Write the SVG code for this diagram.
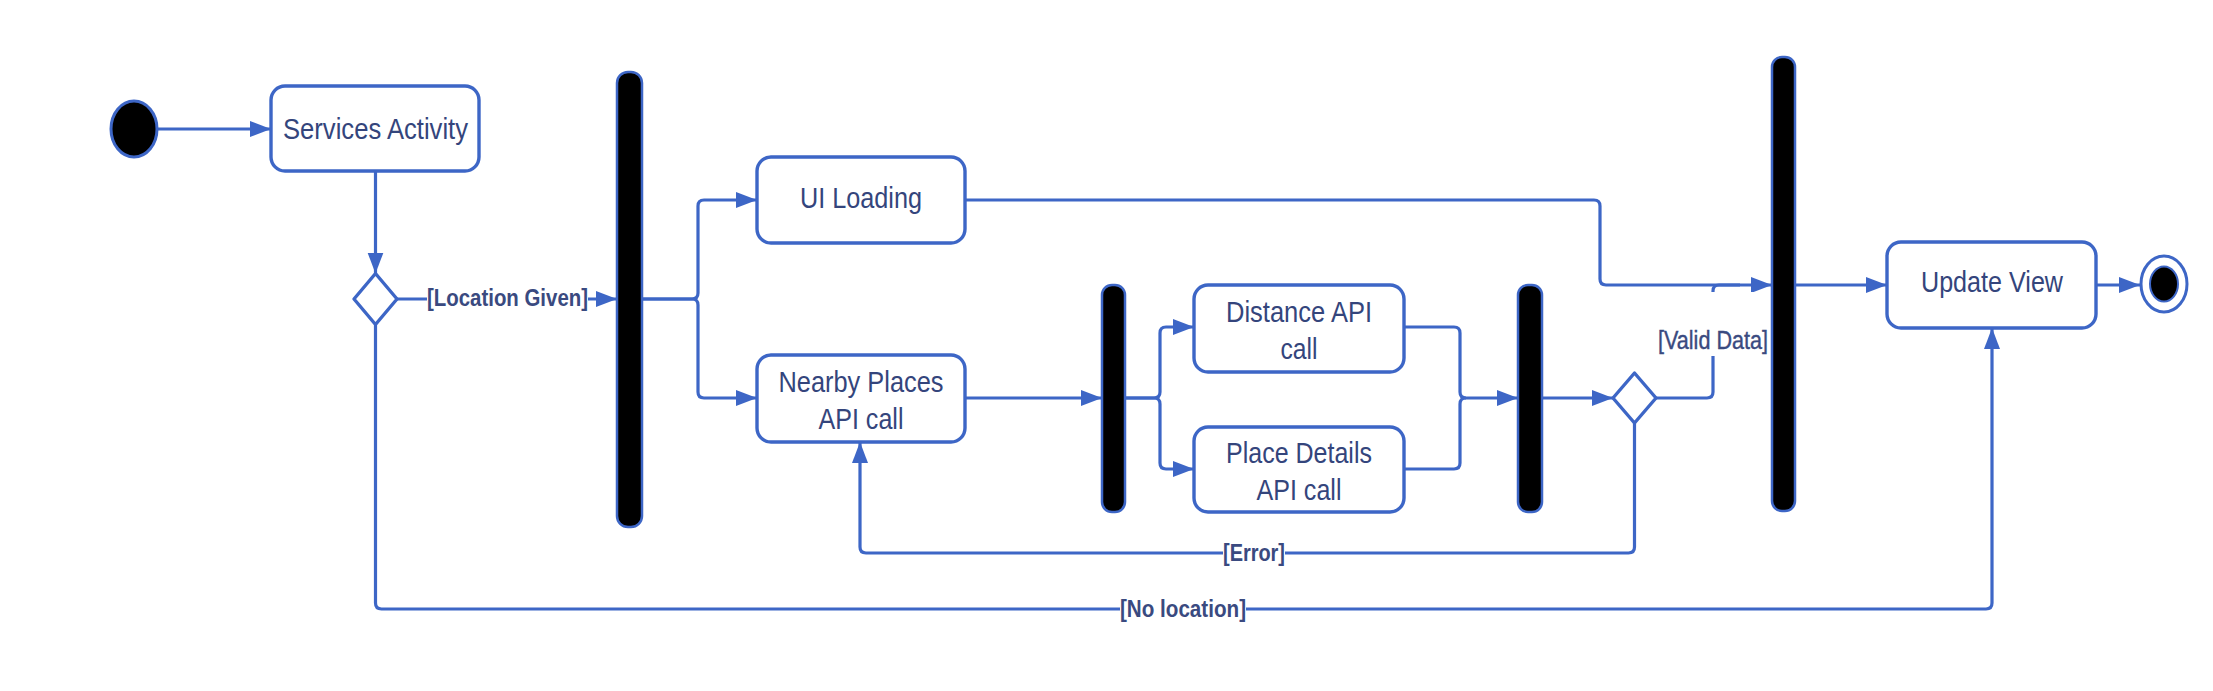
<svg xmlns="http://www.w3.org/2000/svg" width="2213" height="691" viewBox="0 0 2213 691">
<style>
.c{fill:none;stroke:#3d66c6;stroke-width:3.2;stroke-linejoin:round}
.box{fill:#ffffff;stroke:#3d66c6;stroke-width:3.4}
.bar{fill:#000000;stroke:#3d66c6;stroke-width:2.5}
.dia{fill:#ffffff;stroke:#3d66c6;stroke-width:3.4;stroke-linejoin:round}
.t{font-family:"Liberation Sans",Arial,sans-serif;font-size:29px;fill:#34457c;text-anchor:middle}
.l{font-family:"Liberation Sans",Arial,sans-serif;font-size:24px;font-weight:bold;fill:#3a4a80;text-anchor:middle}
.lr{font-family:"Liberation Sans",Arial,sans-serif;font-size:25px;fill:#3a4a80;text-anchor:middle;stroke:#3a4a80;stroke-width:0.4}
.bg{fill:#ffffff}
</style>
<defs>
<marker id="arr" markerUnits="userSpaceOnUse" markerWidth="22" markerHeight="17" refX="21" refY="8" orient="auto">
<path d="M0,0 L21,8 L0,16 z" fill="#3d66c6"/>
</marker>
</defs>
<rect width="2213" height="691" fill="#ffffff"/>
<g id="connectors">
<path class="c" d="M157,129 H271" marker-end="url(#arr)"/>
<path class="c" d="M375.5,171 V273.5" marker-end="url(#arr)"/>
<path class="c" d="M397,299 H617" marker-end="url(#arr)"/>
<path class="c" d="M642,299 H692 Q698,299 698,293 V206 Q698,200 704,200 H757" marker-end="url(#arr)"/>
<path class="c" d="M642,299 H692 Q698,299 698,305 V392 Q698,398 704,398 H757" marker-end="url(#arr)"/>
<path class="c" d="M965,200 H1594 Q1600,200 1600,206 V279 Q1600,285 1606,285 H1772" marker-end="url(#arr)"/>
<path class="c" d="M965,398 H1102" marker-end="url(#arr)"/>
<path class="c" d="M1125,398 H1154 Q1160,398 1160,392 V333 Q1160,327 1166,327 H1194" marker-end="url(#arr)"/>
<path class="c" d="M1125,398 H1154 Q1160,398 1160,404 V463 Q1160,469 1166,469 H1194" marker-end="url(#arr)"/>
<path class="c" d="M1404,327 H1454 Q1460,327 1460,333 V392 Q1460,398 1466,398 H1518" marker-end="url(#arr)"/>
<path class="c" d="M1404,469 H1454 Q1460,469 1460,463 V404 Q1460,398 1466,398"/>
<path class="c" d="M1542,398 H1613" marker-end="url(#arr)"/>
<path class="c" d="M1656,398 H1707 Q1713,398 1713,392 V291 Q1713,285 1719,285 H1740"/>
<path class="c" d="M1795,285 H1887" marker-end="url(#arr)"/>
<path class="c" d="M2096,285 H2140" marker-end="url(#arr)"/>
<path class="c" d="M1634.5,423 V547 Q1634.5,553 1628.5,553 H866 Q860,553 860,547 V442" marker-end="url(#arr)"/>
<path class="c" d="M375.5,324.5 V603 Q375.5,609 381.5,609 H1986 Q1992,609 1992,603 V328" marker-end="url(#arr)"/>
<rect class="bg" x="427" y="285" width="161" height="28"/>
<text class="l" x="507.5" y="306" textLength="161" lengthAdjust="spacingAndGlyphs">[Location Given]</text>
<rect class="bg" x="1656" y="292" width="114" height="64"/>
<text class="lr" x="1713" y="349" textLength="110" lengthAdjust="spacingAndGlyphs">[Valid Data]</text>
<rect class="bg" x="1223" y="540" width="62" height="27"/>
<text class="l" x="1254" y="561" textLength="62" lengthAdjust="spacingAndGlyphs">[Error]</text>
<rect class="bg" x="1120" y="596" width="126" height="27"/>
<text class="l" x="1183" y="617" textLength="126" lengthAdjust="spacingAndGlyphs">[No location]</text>
</g>
<g id="start">
<ellipse cx="134" cy="129" rx="23" ry="28" fill="#000000" stroke="#3d66c6" stroke-width="3"/>
</g>
<g id="services-activity">
<rect class="box" x="271" y="86" width="208" height="85" rx="14"/>
<text class="t" x="375.5" y="139" textLength="185" lengthAdjust="spacingAndGlyphs">Services Activity</text>
</g>
<g id="decision-location">
<polygon class="dia" points="375.5,273.5 397,299 375.5,324.5 354,299"/>
</g>
<g id="fork-1">
<rect class="bar" x="617" y="72" width="25" height="455" rx="11"/>
</g>
<g id="ui-loading">
<rect class="box" x="757" y="157" width="208" height="86" rx="14"/>
<text class="t" x="861" y="208" textLength="122" lengthAdjust="spacingAndGlyphs">UI Loading</text>
</g>
<g id="nearby-places">
<rect class="box" x="757" y="355" width="208" height="87" rx="14"/>
<text class="t" x="861" y="392" textLength="165" lengthAdjust="spacingAndGlyphs">Nearby Places</text>
<text class="t" x="861" y="429" textLength="85" lengthAdjust="spacingAndGlyphs">API call</text>
</g>
<g id="fork-2">
<rect class="bar" x="1102" y="285" width="23" height="227" rx="10"/>
</g>
<g id="distance-api">
<rect class="box" x="1194" y="285" width="210" height="87" rx="14"/>
<text class="t" x="1299" y="322" textLength="146" lengthAdjust="spacingAndGlyphs">Distance API</text>
<text class="t" x="1299" y="359" textLength="37" lengthAdjust="spacingAndGlyphs">call</text>
</g>
<g id="place-details">
<rect class="box" x="1194" y="427" width="210" height="85" rx="14"/>
<text class="t" x="1299" y="463" textLength="146" lengthAdjust="spacingAndGlyphs">Place Details</text>
<text class="t" x="1299" y="500" textLength="85" lengthAdjust="spacingAndGlyphs">API call</text>
</g>
<g id="join-1">
<rect class="bar" x="1518" y="285" width="24" height="227" rx="10"/>
</g>
<g id="decision-data">
<polygon class="dia" points="1634.5,373 1656,398 1634.5,423 1613,398"/>
</g>
<g id="join-2">
<rect class="bar" x="1772" y="57" width="23" height="454" rx="10"/>
</g>
<g id="update-view">
<rect class="box" x="1887" y="242" width="209" height="86" rx="14"/>
<text class="t" x="1992" y="292" textLength="142" lengthAdjust="spacingAndGlyphs">Update View</text>
</g>
<g id="end">
<ellipse cx="2164" cy="284" rx="23" ry="28" fill="#ffffff" stroke="#3d66c6" stroke-width="3"/>
<ellipse cx="2164" cy="284" rx="14" ry="17.5" fill="#000000" stroke="#3d66c6" stroke-width="2"/>
</g>
</svg>
